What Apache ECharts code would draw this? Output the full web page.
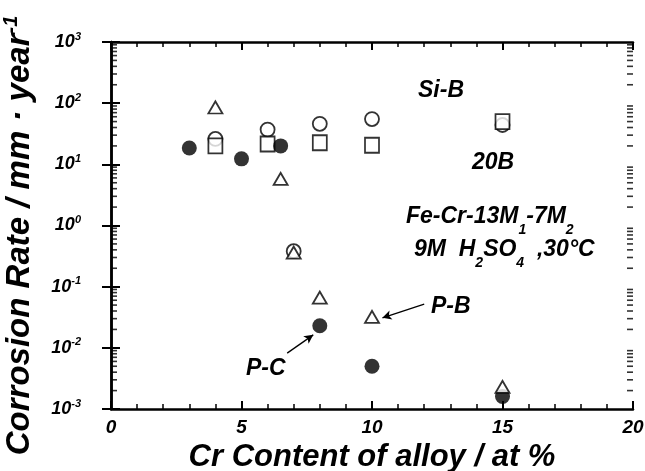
<!DOCTYPE html>
<html>
<head>
<meta charset="utf-8">
<script src="https://cdn.jsdelivr.net/npm/echarts@6/dist/echarts.min.js"></script>
<style>
html,body{margin:0;padding:0;background:#fff;}
#chart{width:645px;height:471px;}
</style>
</head>
<body>
<div id="chart"></div>
<script>
// ---- data (Cr at%, corrosion rate mm/year) ----
const filledCircle = [[3, 18.5], [5, 12.3], [6.5, 20], [8, 0.023], [10, 0.0050], [15, 0.0016]];
const openCircle   = [[4, 26], [6, 37], [7, 0.38], [8, 46], [10, 55], [15, 44]];
const openSquare   = [[4, 20], [6, 21.5], [8, 22.5], [10, 20.5], [15, 50]];
const openTriangle = [[4, 85], [6.5, 5.8], [7, 0.36], [8, 0.066], [10, 0.032], [15, 0.0023]];
const xTicks = [0, 5, 10, 15, 20];
const yDecades = [-3, -2, -1, 0, 1, 2, 3];
// arrow annotations [from, to] in data coordinates
const arrowPB = [[12.0, 0.052], [10.4, 0.031]];
const arrowPC = [[6.75, 0.0082], [7.75, 0.0163]];

// minor log ticks (2..9 within each decade) – axis decoration only
const minorLogTicks = [];
for (let i = 0; i < yDecades.length - 1; i++) {
  for (let k = 2; k <= 9; k++) minorLogTicks.push(k * Math.pow(10, yDecades[i]));
}
const xMin = xTicks[0], xMax = xTicks[xTicks.length - 1];

const FONT = 'Liberation Sans';
const chart = echarts.init(document.getElementById('chart'), null, {renderer: 'canvas'});

const markerStyle = {color: '#fff', borderColor: '#000', borderWidth: 1.8};
const annFont = 'italic bold 23px ' + FONT;
const annRich = {
  a: {fill: '#000', fontFamily: FONT, fontSize: 23, fontWeight: 'bold', fontStyle: 'italic', lineHeight: 32, verticalAlign: 'top'},
  s: {fill: '#000', fontFamily: FONT, fontSize: 14, fontWeight: 'bold', fontStyle: 'italic', lineHeight: 32, verticalAlign: 'bottom'}
};

const option = {
  animation: false,
  backgroundColor: '#fff',
  grid: {left: 111, right: 12, top: 42, bottom: 62, containLabel: false, outerBoundsMode: 'none'},
  xAxis: [{
    type: 'value', min: xMin, max: xMax, interval: 5,
    axisLine: {lineStyle: {color: '#000', width: 2.5}},
    axisTick: {inside: true, length: 8, lineStyle: {color: '#000', width: 2}},
    minorTick: {show: true, splitNumber: 5, length: 5, lineStyle: {color: '#000', width: 1.5}},
    splitLine: {show: false},
    axisLabel: {margin: 9, color: '#000', fontFamily: FONT, fontSize: 19, fontWeight: 'bold', fontStyle: 'italic'},
    name: 'Cr Content of alloy / at %', nameLocation: 'middle', nameGap: 22,
    nameTextStyle: {color: '#000', fontFamily: FONT, fontSize: 31, fontWeight: 'bold', fontStyle: 'italic'}
  }, {
    type: 'value', position: 'top', min: xMin, max: xMax, interval: 5,
    axisLine: {show: true, lineStyle: {color: '#000', width: 2.5}},
    axisTick: {inside: true, length: 8, lineStyle: {color: '#000', width: 2}},
    minorTick: {show: true, splitNumber: 5, length: 5, lineStyle: {color: '#000', width: 1.5}},
    splitLine: {show: false}, axisLabel: {show: false}
  }],
  yAxis: [{
    type: 'log', logBase: 10, min: Math.pow(10, yDecades[0]), max: Math.pow(10, yDecades[yDecades.length - 1]),
    splitNumber: 6,
    axisLine: {lineStyle: {color: '#000', width: 2.5}},
    axisTick: {inside: true, length: 9, lineStyle: {color: '#000', width: 2}},
    splitLine: {show: false},
    axisLabel: {
      margin: 30, color: '#000',
      formatter: v => '{b|10}{s|' + Math.round(Math.log10(v)) + '}',
      rich: {
        b: {fontFamily: FONT, fontSize: 18, fontWeight: 'bold', fontStyle: 'italic', color: '#000', lineHeight: 22},
        s: {fontFamily: FONT, fontSize: 11, fontWeight: 'bold', fontStyle: 'italic', color: '#000', verticalAlign: 'top', lineHeight: 22}
      }
    },
    name: 'Corrosion Rate / mm · year{s|-1}', nameLocation: 'middle', nameGap: 72,
    nameTextStyle: {
      color: '#000', fontFamily: FONT, fontSize: 33, fontWeight: 'bold', fontStyle: 'italic', padding: [0, 20, 0, 0],
      rich: {s: {fontFamily: FONT, fontSize: 20, fontWeight: 'bold', fontStyle: 'italic', color: '#000', verticalAlign: 'top', lineHeight: 38}}
    }
  }, {
    type: 'log', logBase: 10, position: 'right', min: Math.pow(10, yDecades[0]), max: Math.pow(10, yDecades[yDecades.length - 1]), splitNumber: 6,
    axisLine: {show: true, lineStyle: {color: '#000', width: 2.5}},
    axisTick: {inside: true, length: 9, lineStyle: {color: '#000', width: 2}},
    splitLine: {show: false}, axisLabel: {show: false}
  }],
  series: [
    // minor log ticks on left and right frame edges
    {type: 'scatter', name: 'minorLeft', silent: true, clip: false, z: 10,
      data: minorLogTicks.map(v => [xMin, v]), symbol: 'rect', symbolSize: [6, 1.6], symbolOffset: [3, 0],
      itemStyle: {color: '#000'}},
    {type: 'scatter', name: 'minorRight', silent: true, clip: false, z: 10,
      data: minorLogTicks.map(v => [xMax, v]), symbol: 'rect', symbolSize: [6, 1.6], symbolOffset: [-3, 0],
      itemStyle: {color: '#000'}},
    {type: 'scatter', name: 'open circle', data: openCircle, symbol: 'circle', symbolSize: 14, itemStyle: markerStyle, z: 3},
    {type: 'scatter', name: 'open square', data: openSquare, symbol: 'rect', symbolSize: [14, 15], itemStyle: markerStyle, z: 4},
    {type: 'scatter', name: 'filled circle', data: filledCircle, symbol: 'circle', symbolSize: 15, itemStyle: {color: '#000'}, z: 5},
    {type: 'scatter', name: 'open triangle', data: openTriangle, symbol: 'triangle', symbolSize: [14, 12], itemStyle: markerStyle, z: 6,
      markLine: {
        silent: true, symbol: ['none', 'arrow'], symbolSize: [7, 9],
        label: {show: false},
        lineStyle: {color: '#000', width: 1.3, type: 'solid'},
        data: [
          [{coord: arrowPB[0]}, {coord: arrowPB[1]}],
          [{coord: arrowPC[0]}, {coord: arrowPC[1]}]
        ]
      }
    }
  ],
  graphic: [
    {type: 'text', left: 418, top: 79, style: {text: 'Si-B', fill: '#000', font: annFont}},
    {type: 'text', left: 472, top: 151, style: {text: '20B', fill: '#000', font: annFont}},
    {type: 'text', left: 406, top: 205, style: {text: '{a|Fe-Cr-13M}{s|1}{a|-7M}{s|2}', rich: annRich}},
    {type: 'text', left: 414, top: 238, style: {text: '{a|9M  H}{s|2}{a|SO}{s|4}{a|  ,30°C}', rich: annRich}},
    {type: 'text', left: 431, top: 295, style: {text: 'P-B', fill: '#000', font: annFont}},
    {type: 'text', left: 246, top: 357, style: {text: 'P-C', fill: '#000', font: annFont}}
  ]
};
chart.setOption(option);
</script>
</body>
</html>
